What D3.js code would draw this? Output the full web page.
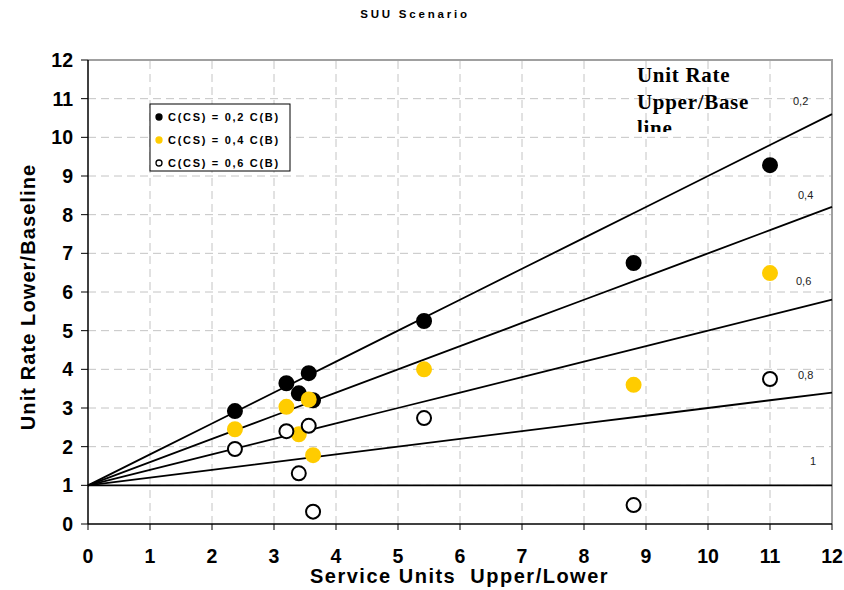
<!DOCTYPE html>
<html>
<head>
<meta charset="utf-8">
<script src="https://cdn.jsdelivr.net/npm/d3@7/dist/d3.min.js"></script>
<style>
  body { margin: 0; background: #fff; }
  svg { font-family: Arial, "Liberation Sans", sans-serif; }
</style>
</head>
<body>
<div id="chart"></div>
<script>
// service units ratio of the measured cases
var caseX = [2.37, 3.2, 3.4, 3.56, 3.63, 5.42, 8.8, 11.0];
// unit rate lower/baseline for each cost share
var cs02 = [2.92, 3.64, 3.38, 3.9, 3.2, 5.25, 6.75, 9.28];
var cs04 = [2.45, 3.03, 2.32, 3.22, 1.78, 4.0, 3.6, 6.49];
var cs06 = [1.94, 2.4, 1.31, 2.54, 0.32, 2.74, 0.49, 3.75];

// reference lines "Unit Rate Upper/Baseline"
var refX = [0, 1, 2, 3, 4, 5, 6, 7, 8, 9, 10, 11, 12];
var ref02 = [1, 1.8, 2.6, 3.4, 4.2, 5.0, 5.8, 6.6, 7.4, 8.2, 9.0, 9.8, 10.6];
var ref04 = [1, 1.6, 2.2, 2.8, 3.4, 4.0, 4.6, 5.2, 5.8, 6.4, 7.0, 7.6, 8.2];
var ref06 = [1, 1.4, 1.8, 2.2, 2.6, 3.0, 3.4, 3.8, 4.2, 4.6, 5.0, 5.4, 5.8];
var ref08 = [1, 1.2, 1.4, 1.6, 1.8, 2.0, 2.2, 2.4, 2.6, 2.8, 3.0, 3.2, 3.4];
var ref10 = [1, 1, 1, 1, 1, 1, 1, 1, 1, 1, 1, 1, 1];
var refNames = ["0,2", "0,4", "0,6", "0,8", "1"];
var legendNames = ["C(CS) = 0,2 C(B)", "C(CS) = 0,4 C(B)", "C(CS) = 0,6 C(B)"];
var xTicks = d3.range(0, 13);
var yTicks = d3.range(0, 13);

var width = 844, height = 590;
var margin = {left: 88, right: 12, top: 60, bottom: 66};

var svg = d3.select("#chart").append("svg")
    .attr("width", width)
    .attr("height", height);

var x = d3.scaleLinear().domain([0, 12]).range([margin.left, width - margin.right]);
var y = d3.scaleLinear().domain([0, 12]).range([height - margin.bottom, margin.top]);

// title
svg.append("text")
    .text("SUU Scenario")
    .attr("x", 415)
    .attr("y", 18)
    .attr("text-anchor", "middle")
    .style("font-size", "11.5px")
    .style("font-weight", "bold")
    .style("letter-spacing", "2.8px");

// grid
var grid = svg.append("g").attr("class", "grid");
grid.selectAll(".hgrid")
    .data(yTicks.slice(1, 12))
    .enter().append("line")
    .attr("x1", x(0)).attr("x2", x(12))
    .attr("y1", function(d) { return y(d); })
    .attr("y2", function(d) { return y(d); })
    .style("stroke", "#c4c4c4")
    .style("stroke-dasharray", "8,5");
grid.selectAll(".vgrid")
    .data(xTicks.slice(1, 12))
    .enter().append("line")
    .attr("y1", y(0)).attr("y2", y(12))
    .attr("x1", function(d) { return x(d); })
    .attr("x2", function(d) { return x(d); })
    .style("stroke", "#c4c4c4")
    .style("stroke-dasharray", "8,5");

// plot border (top / right)
svg.append("path")
    .attr("d", "M" + x(0) + "," + y(12) + "H" + x(12) + "V" + y(0))
    .style("fill", "none")
    .style("stroke", "#a0a0a0")
    .style("stroke-width", 2);

// "Unit Rate Upper/Baseline" text box, clipped at its bottom
svg.append("clipPath").attr("id", "boxclip")
    .append("rect").attr("x", 630).attr("y", 60).attr("width", 130).attr("height", 72);
var box = svg.append("text")
    .attr("clip-path", "url(#boxclip)")
    .style("font-family", "'Liberation Serif', 'Times New Roman', serif")
    .style("font-weight", "bold")
    .style("font-size", "21px")
    .style("letter-spacing", "0.7px");
["Unit Rate", "Upper/Base", "line"].forEach(function(t, i) {
  box.append("tspan").attr("x", 637).attr("y", 82 + i * 26.5).text(t);
});

// reference lines
var line = d3.line()
    .x(function(d) { return x(d[0]); })
    .y(function(d) { return y(d[1]); });
var refs = [ref02, ref04, ref06, ref08, ref10];
svg.selectAll(".ref")
    .data(refs)
    .enter().append("path")
    .attr("class", "ref")
    .attr("d", function(r) { return line(refX.map(function(v, i) { return [v, r[i]]; })); })
    .style("fill", "none")
    .style("stroke", "#000")
    .style("stroke-width", 1.8);

var refLabelPos = [[793, 105], [798, 199], [796, 285], [798, 379], [810, 465]];
svg.selectAll(".reflabel")
    .data(refNames)
    .enter().append("text")
    .attr("x", function(d, i) { return refLabelPos[i][0]; })
    .attr("y", function(d, i) { return refLabelPos[i][1]; })
    .text(function(d) { return d; })
    .style("font-size", "11px")
    .style("fill", "#222");

// axes
svg.append("line")
    .attr("x1", x(0)).attr("x2", x(0)).attr("y1", y(0)).attr("y2", y(12))
    .style("stroke", "#000").style("stroke-width", 1.5);
svg.append("line")
    .attr("x1", x(0)).attr("x2", x(12)).attr("y1", y(0)).attr("y2", y(0))
    .style("stroke", "#000").style("stroke-width", 1.5);

var yAxis = svg.append("g");
yAxis.selectAll(".ytick").data(yTicks).enter().append("line")
    .attr("x1", x(0) - 7).attr("x2", x(0))
    .attr("y1", function(d) { return y(d); }).attr("y2", function(d) { return y(d); })
    .style("stroke", "#000");
yAxis.selectAll(".ylab").data(yTicks).enter().append("text")
    .attr("x", 73)
    .attr("y", function(d) { return y(d); })
    .attr("dy", "0.36em")
    .attr("text-anchor", "end")
    .text(function(d) { return d; })
    .style("font-size", "19.5px")
    .style("font-weight", "bold");

var xAxis = svg.append("g");
xAxis.selectAll(".xtick").data(xTicks).enter().append("line")
    .attr("y1", y(0)).attr("y2", y(0) + 6)
    .attr("x1", function(d) { return x(d); }).attr("x2", function(d) { return x(d); })
    .style("stroke", "#000");
xAxis.selectAll(".xlab").data(xTicks).enter().append("text")
    .attr("x", function(d) { return x(d); })
    .attr("y", 563)
    .attr("text-anchor", "middle")
    .text(function(d) { return d; })
    .style("font-size", "19.5px")
    .style("font-weight", "bold");

svg.append("text")
    .attr("x", 310)
    .attr("y", 583)
    .attr("xml:space", "preserve")
    .style("white-space", "pre")
    .text("Service Units  Upper/Lower")
    .style("font-size", "20px")
    .style("font-weight", "bold")
    .style("letter-spacing", "1.5px");

svg.append("text")
    .attr("transform", "translate(35,297) rotate(-90)")
    .attr("text-anchor", "middle")
    .text("Unit Rate Lower/Baseline")
    .style("font-size", "20px")
    .style("font-weight", "bold")
    .style("letter-spacing", "1.1px");

// points
var series = [
  {vals: cs02, fill: "#000"},
  {vals: cs04, fill: "#ffcc00"},
  {vals: cs06, fill: "#fff"}
];
series.forEach(function(s) {
  svg.append("g").selectAll("circle")
      .data(s.vals)
      .enter().append("circle")
      .attr("cx", function(d, i) { return x(caseX[i]); })
      .attr("cy", function(d) { return y(d); })
      .attr("r", 7)
      .style("fill", s.fill)
      .style("stroke", s.fill == "#ffcc00" ? "#ffcc00" : "#000")
      .style("stroke-width", 2);
});

// legend
var legend = svg.append("g").attr("transform", "translate(150,104)");
legend.append("rect")
    .attr("width", 140).attr("height", 67)
    .style("fill", "#fff").style("stroke", "#000");
legendNames.forEach(function(n, i) {
  var s = series[i];
  legend.append("circle")
      .attr("cx", 9).attr("cy", 13 + i * 23)
      .attr("r", 3)
      .style("fill", s.fill)
      .style("stroke", s.fill == "#ffcc00" ? "#ffcc00" : "#000")
      .style("stroke-width", 1.3);
  legend.append("text")
      .attr("x", 18).attr("y", 17 + i * 23)
      .text(n)
      .style("font-size", "11px")
      .style("font-weight", "bold")
      .style("letter-spacing", "1.7px");
});
</script>
</body>
</html>
